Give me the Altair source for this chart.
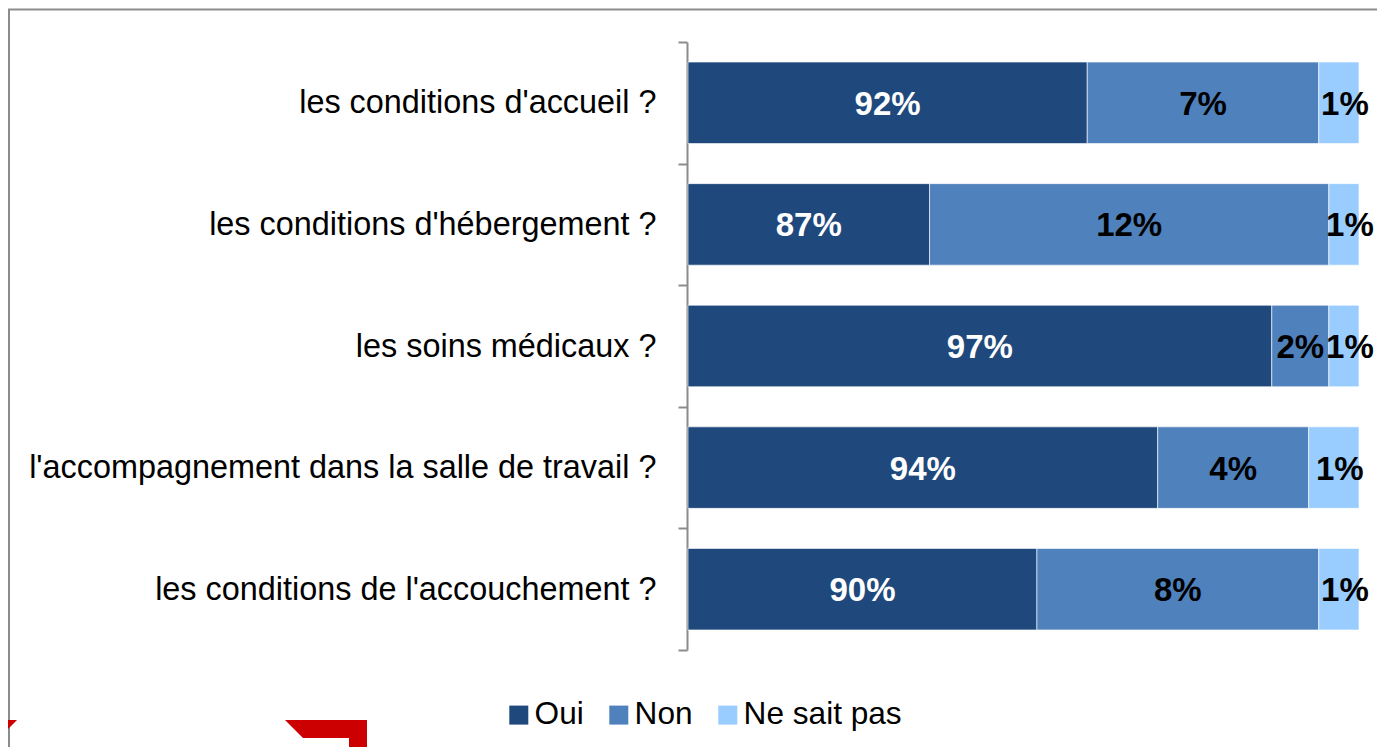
import altair as alt
import pandas as pd

categories = [
    "les conditions d'accueil ?",
    "les conditions d'hébergement ?",
    "les soins médicaux ?",
    "l'accompagnement dans la salle de travail ?",
    "les conditions de l'accouchement ?",
]
responses = ["Oui", "Non", "Ne sait pas"]
oui = [91.9, 87.2, 97.4, 94.0, 90.4]
non = [6.9, 11.9, 1.7, 4.5, 8.4]
nsp = [1.2, 0.9, 0.9, 1.5, 1.2]
oui_labels = ["92%", "87%", "97%", "94%", "90%"]
non_labels = ["7%", "12%", "2%", "4%", "8%"]
nsp_labels = ["1%", "1%", "1%", "1%", "1%"]
colors = ["#1F497D", "#4F81BD", "#99CCFF"]
axis_min, axis_max = 80, 100

rows = []
for i, cat in enumerate(categories):
    start = 0.0
    for resp, vals, labs in zip(responses, [oui, non, nsp], [oui_labels, non_labels, nsp_labels]):
        end = start + vals[i]
        vis_start = max(start, axis_min)
        rows.append({
            "categorie": cat, "reponse": resp, "start": start, "end": end,
            "mid": (vis_start + end) / 2, "label": labs[i],
        })
        start = end
df = pd.DataFrame(rows)

FONT = "Liberation Sans"

y_enc = alt.Y(
    "categorie:N", sort=categories, title=None,
    scale=alt.Scale(paddingInner=0, paddingOuter=0),
    axis=alt.Axis(
        orient="left", tickBand="extent", tickSize=9, tickWidth=2, tickColor="#8C8C8C",
        domainColor="#8C8C8C", domainWidth=2, labelFont=FONT, labelFontSize=32.4,
        labelColor="#000000", labelPadding=22, labelLimit=700, offset=1,
    ),
)
x_scale = alt.Scale(domain=[axis_min, axis_max], clamp=True, nice=False, zero=False)

bars = alt.Chart(df).mark_bar(size=81.5, stroke="#FFFFFF", strokeOpacity=0.6, strokeWidth=1).encode(
    x=alt.X("start:Q", scale=x_scale, axis=None),
    x2="end:Q",
    y=y_enc,
    color=alt.Color(
        "reponse:N", sort=responses,
        scale=alt.Scale(domain=responses, range=colors),
        legend=alt.Legend(
            title=None, orient="none", direction="horizontal", legendX=-185, legendY=657,
            symbolType="square", symbolSize=361, symbolStrokeWidth=0,
            labelFont=FONT, labelFontSize=31.6, labelColor="#000000", labelOffset=0,
            columnPadding=19, padding=0,
        ),
    ),
)

def labels(resp, color, dx):
    return alt.Chart(df).transform_filter(alt.datum.reponse == resp).mark_text(
        font=FONT, fontSize=33, fontWeight="bold", color=color, baseline="middle", dy=2, dx=dx
    ).encode(x=alt.X("mid:Q", scale=x_scale), y=alt.Y("categorie:N", sort=categories), text="label:N")

text_oui = labels("Oui", "#FFFFFF", 0)
text_non = labels("Non", "#000000", 0)
text_nsp = labels("Ne sait pas", "#000000", 6)

dummy = pd.DataFrame({"d": [0]})
frame = alt.Chart(dummy).mark_rect(fill=None, stroke="#8C8C8C", strokeWidth=2).encode(
    x=alt.value(-679), x2=alt.value(1200), y=alt.value(-32.5), y2=alt.value(1200)
)
logo = alt.Chart(dummy).mark_point(
    shape="M-403,678 L-321,678 L-321,713 L-339,713 L-339,696 L-385,696 Z "
          "M-690,678 L-671,678 L-690,697 Z",
    filled=True, size=4, color="#CC0000", opacity=1, strokeWidth=0,
).encode(x=alt.value(0), y=alt.value(0))

chart = alt.layer(frame, bars, text_oui, text_non, text_nsp, logo).properties(
    width=671, height=608,
    autosize=alt.AutoSizeParams(type="none"),
    padding={"left": 680, "top": 34, "right": 18, "bottom": 97},
).configure(background="#FFFFFF").configure_view(stroke=None)

chart.save("out.html", embed_options={"renderer": "svg", "actions": False})
